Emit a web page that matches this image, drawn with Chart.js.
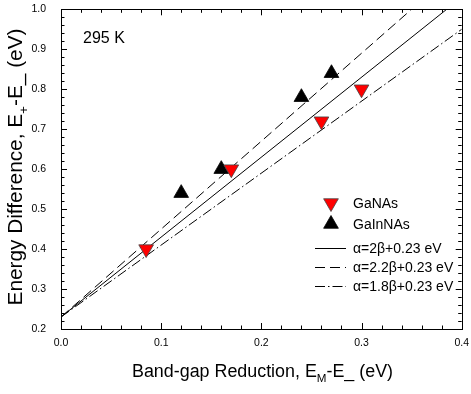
<!DOCTYPE html>
<html>
<head>
<meta charset="utf-8">
<script src="https://cdn.jsdelivr.net/npm/chart.js@4.4.0/dist/chart.umd.min.js"></script>
<style>
  html, body { margin: 0; padding: 0; background: #fff; }
  #wrap { width: 471px; height: 394px; }
</style>
</head>
<body>
<div id="wrap"><canvas id="chart" width="471" height="394"></canvas></div>
<script>
// data (x: band-gap reduction, y: energy difference, both eV)
const gaNAsX = [0.085, 0.17, 0.26, 0.30];
const gaNAsY = [0.40, 0.60, 0.72, 0.80];
const gaInNAsX = [0.12, 0.16, 0.24, 0.27];
const gaInNAsY = [0.54, 0.60, 0.78, 0.84];

// model lines, end points at the left and right edge of the plot
const fitX = [0.0, 0.4];
const fit20Y = [0.23, 1.03];
const fit22Y = [0.23, 1.11];
const fit18Y = [0.23, 0.95];

const seriesNames = ["GaNAs", "GaInNAs", "α=2β+0.23 eV", "α=2.2β+0.23 eV", "α=1.8β+0.23 eV"];
const xTicks = [0.0, 0.1, 0.2, 0.3, 0.4];
const yTicks = [0.2, 0.3, 0.4, 0.5, 0.6, 0.7, 0.8, 0.9, 1.0];

const FONT = "'Liberation Sans', Arial, Helvetica, sans-serif";
const DASHED = [10, 5];
const DASHDOT = [10, 3, 1.5, 3];

function pts(xs, ys) {
  return xs.map((x, i) => ({ x, y: ys[i] }));
}

// text with subscripts, centred on the current origin
function drawRich(ctx, parts, size, targetW) {
  const widths = parts.map((p) => {
    ctx.font = (p[1] ? size * 0.65 : size) + "px " + FONT;
    return ctx.measureText(p[0]).width;
  });
  const total = widths.reduce((a, b) => a + b, 0);
  const k = targetW ? targetW / total : 1;
  ctx.save();
  ctx.scale(k, 1);
  ctx.textAlign = "left";
  ctx.textBaseline = "alphabetic";
  let x = -total / 2;
  parts.forEach((p, i) => {
    ctx.font = (p[1] ? size * 0.65 : size) + "px " + FONT;
    ctx.fillText(p[0], x, p[1] ? size * 0.28 : 0);
    x += widths[i];
  });
  ctx.restore();
}

function noPad(s) {
  s.paddingLeft = 0;
  s.paddingRight = 0;
  s.paddingTop = 0;
  s.paddingBottom = 0;
}

const framePlugin = {
  id: "frame",
  afterDatasetsDraw(chart) {
    const { ctx, chartArea: a, scales } = chart;
    const xs = scales.x, ys = scales.y;
    ctx.save();
    ctx.strokeStyle = "#000";
    ctx.lineWidth = 1;
    ctx.setLineDash([]);
    ctx.strokeRect(Math.round(a.left) + 0.5, Math.round(a.top) + 0.5,
      Math.round(a.right - a.left), Math.round(a.bottom - a.top));

    ctx.beginPath();
    for (let i = 0; i <= 20; i++) {
      const v = i * 0.02;
      const px = Math.round(xs.getPixelForValue(v)) + 0.5;
      const len = i % 5 === 0 ? 6 : 3.5;
      ctx.moveTo(px, a.bottom); ctx.lineTo(px, a.bottom - len);
      ctx.moveTo(px, a.top); ctx.lineTo(px, a.top + len);
    }
    for (let i = 0; i <= 40; i++) {
      const v = 0.2 + i * 0.02;
      const py = Math.round(ys.getPixelForValue(v)) + 0.5;
      const len = i % 5 === 0 ? 6 : 3.5;
      ctx.moveTo(a.left, py); ctx.lineTo(a.left + len, py);
      ctx.moveTo(a.right, py); ctx.lineTo(a.right - len, py);
    }
    ctx.stroke();

    // legend
    const ds = chart.data.datasets;
    const rows = [203, 224, 248, 267, 286];
    ctx.fillStyle = "#000";
    ctx.font = "14px " + FONT;
    ctx.textBaseline = "middle";
    ctx.textAlign = "left";
    rows.forEach((y, i) => {
      const d = ds[i];
      if (i < 2) {
        ctx.save();
        ctx.fillStyle = d.backgroundColor;
        ctx.strokeStyle = d.borderColor;
        ctx.lineWidth = d.borderWidth;
        Chart.helpers.drawPoint(ctx, {
          pointStyle: "triangle", radius: d.pointRadius, rotation: d.rotation, borderWidth: d.borderWidth
        }, 331, y);
        ctx.restore();
      } else {
        ctx.save();
        ctx.strokeStyle = d.borderColor;
        ctx.lineWidth = d.borderWidth;
        ctx.setLineDash(d.borderDash || []);
        ctx.beginPath();
        ctx.moveTo(315, Math.round(y) + 0.5);
        ctx.lineTo(346, Math.round(y) + 0.5);
        ctx.stroke();
        ctx.restore();
      }
      ctx.fillText(seriesNames[i], 353, y + 1);
    });

    ctx.font = "16px " + FONT;
    ctx.fillText("295 K", 83, 39);

    // axis titles
    ctx.save();
    ctx.translate(262.5, 377);
    drawRich(ctx, [["Band-gap Reduction, E", 0], ["M", 1], ["-E_ (eV)", 0]], 18, 261);
    ctx.restore();

    ctx.save();
    ctx.translate(22, 167);
    ctx.rotate(-Math.PI / 2);
    drawRich(ctx, [["Energy Difference, E", 0], ["+", 1], ["-E_ (eV)", 0]], 20, 277);
    ctx.restore();
    ctx.restore();
  }
};

const tickFont = { family: FONT, size: 10.5 };

new Chart(document.getElementById("chart"), {
  type: "scatter",
  data: {
    datasets: [
      {
        label: seriesNames[0],
        data: pts(gaNAsX, gaNAsY),
        pointStyle: "triangle",
        rotation: 180,
        pointRadius: 8.5,
        backgroundColor: "#ff0000",
        borderColor: "#444",
        borderWidth: 0.8
      },
      {
        label: seriesNames[1],
        data: pts(gaInNAsX, gaInNAsY),
        pointStyle: "triangle",
        rotation: 0,
        pointRadius: 8.5,
        backgroundColor: "#000",
        borderColor: "#000",
        borderWidth: 0.8
      },
      {
        label: seriesNames[2],
        data: pts(fitX, fit20Y),
        showLine: true,
        pointRadius: 0,
        borderColor: "#000",
        borderWidth: 1,
        backgroundColor: "#000"
      },
      {
        label: seriesNames[3],
        data: pts(fitX, fit22Y),
        showLine: true,
        pointRadius: 0,
        borderColor: "#000",
        borderWidth: 1,
        borderDash: DASHED,
        backgroundColor: "#000"
      },
      {
        label: seriesNames[4],
        data: pts(fitX, fit18Y),
        showLine: true,
        pointRadius: 0,
        borderColor: "#000",
        borderWidth: 1,
        borderDash: DASHDOT,
        backgroundColor: "#000"
      }
    ]
  },
  options: {
    responsive: false,
    animation: false,
    devicePixelRatio: 1,
    layout: { padding: { left: 0, top: 8, right: 7, bottom: 0 } },
    plugins: {
      legend: { display: false },
      tooltip: { enabled: false }
    },
    scales: {
      x: {
        type: "linear",
        min: 0,
        max: 0.4,
        grid: { display: false, drawTicks: false },
        border: { display: false },
        afterBuildTicks: (s) => { s.ticks = xTicks.map((v) => ({ value: v })); },
        afterFit: (s) => { s.height = 65; noPad(s); },
        ticks: {
          font: tickFont,
          color: "#000",
          padding: 8,
          maxRotation: 0,
          autoSkip: false,
          callback: (v) => Number(v).toFixed(1)
        }
      },
      y: {
        type: "linear",
        min: 0.2,
        max: 1.0,
        grid: { display: false, drawTicks: false },
        border: { display: false },
        afterBuildTicks: (s) => { s.ticks = yTicks.map((v) => ({ value: v })); },
        afterFit: (s) => { s.width = 61; noPad(s); },
        ticks: {
          font: tickFont,
          color: "#000",
          padding: 15,
          autoSkip: false,
          callback: (v) => Number(v).toFixed(1)
        }
      }
    }
  },
  plugins: [framePlugin]
});
</script>
</body>
</html>
